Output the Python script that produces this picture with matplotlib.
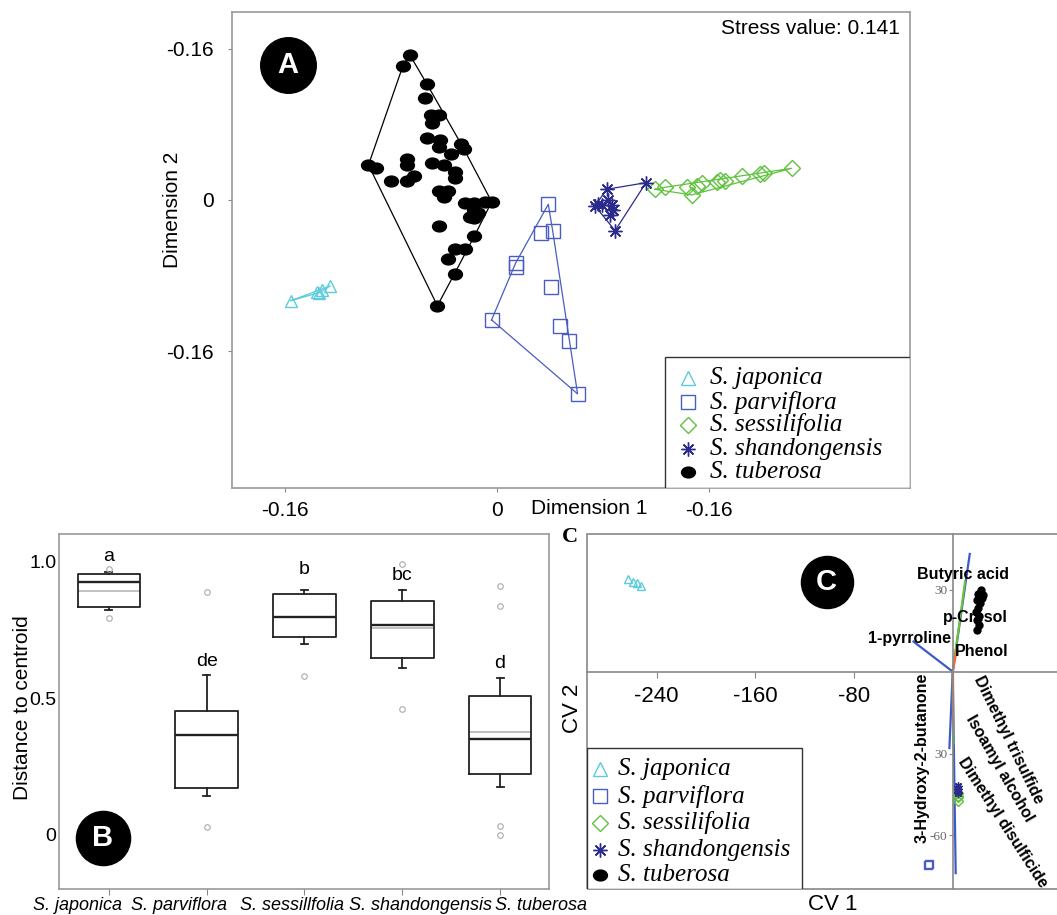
import numpy as np
import matplotlib
matplotlib.use('Agg')
import matplotlib.pyplot as plt
from matplotlib.path import Path
from matplotlib.patches import Rectangle

plt.rcParams['font.family'] = ['Liberation Sans', 'DejaVu Sans']

W, H = 1057, 915

# ---------------- shared species info ----------------
species = ['S. japonica', 'S. parviflora', 'S. sessilifolia', 'S. shandongensis', 'S. tuberosa']
colors = ['#5ccbdc', '#4a5cc0', '#5fc23c', '#2b2b8c', '#000000']

# ---------------- panel A: NMDS ----------------
jap_x = [-0.1555, -0.1357, -0.1324, -0.1258, -0.1340]
jap_y = [-0.1066, -0.0970, -0.0952, -0.0910, -0.0981]
par_x = [0.0387, 0.0331, 0.0420, 0.0140, 0.0140, 0.0404, -0.0041, 0.0476, 0.0540, 0.0608]
par_y = [-0.0046, -0.0346, -0.0325, -0.0670, -0.0712, -0.0924, -0.1270, -0.1333, -0.1492, -0.2053]
ses_x = [0.1192, 0.1268, 0.1432, 0.1469, 0.1507, 0.1545, 0.1658, 0.1683, 0.1721, 0.1847, 0.1985, 0.2015, 0.2224]
ses_y = [0.0113, 0.0134, 0.0134, 0.0053, 0.0148, 0.0177, 0.0194, 0.0212, 0.0204, 0.0254, 0.0275, 0.0289, 0.0335]
sha_x = [0.0828, 0.1125, 0.0765, 0.0740, 0.0790, 0.0840, 0.0866, 0.0878, 0.0853, 0.0891]
sha_y = [0.0113, 0.0183, -0.0042, -0.0063, -0.0053, 0.0000, -0.0053, -0.0106, -0.0159, -0.0325]
tub_x = [-0.066, -0.071, -0.053, -0.054, -0.050, -0.044, -0.049, -0.053, -0.043, -0.027,
         -0.025, -0.044, -0.035, -0.068, -0.068, -0.049, -0.040, -0.097, -0.091, -0.080,
         -0.068, -0.063, -0.032, -0.032, -0.044, -0.037, -0.040, -0.024, -0.017, -0.009,
         -0.004, -0.017, -0.014, -0.020, -0.017, -0.044, -0.017, -0.032, -0.024, -0.037,
         -0.032, -0.045]
tub_y = [0.154, 0.142, 0.123, 0.108, 0.090, 0.090, 0.081, 0.066, 0.063, 0.059,
         0.054, 0.056, 0.049, 0.043, 0.037, 0.039, 0.037, 0.037, 0.034, 0.020,
         0.020, 0.025, 0.030, 0.023, 0.009, 0.009, 0.003, -0.003, -0.003, -0.002,
         -0.002, -0.011, -0.014, -0.018, -0.019, -0.028, -0.038, -0.052, -0.052, -0.063,
         -0.078, -0.112]
a_xticks = [-0.16, 0, 0.16]
a_xticklabels = ['-0.16', '0', '-0.16']
a_yticks = [0.16, 0, -0.16]
a_yticklabels = ['-0.16', '0', '-0.16']
stress = 0.141

# ---------------- panel B: distance to centroid ----------------
b_names = ['S. japonica', 'S. parviflora', 'S. sessillfolia', 'S. shandongensis', 'S. tuberosa']
b_q1 = [0.836, 0.171, 0.724, 0.647, 0.222]
b_q3 = [0.956, 0.455, 0.883, 0.855, 0.509]
b_med = [0.928, 0.366, 0.797, 0.769, 0.350]
b_mean = [0.894, 0.366, 0.797, 0.757, 0.376]
b_lo = [0.824, 0.143, 0.698, 0.611, 0.177]
b_hi = [0.964, 0.584, 0.897, 0.897, 0.573]
b_fliers = [[0.974, 0.796], [0.891, 0.028], [0.582], [0.991, 0.462], [0.910, 0.840, 0.034, 0.0]]
b_letters = ['a', 'de', 'b', 'bc', 'd']
b_letter_y = [1.02, 0.635, 0.973, 0.949, 0.626]
b_label_x = [0.225, 1.225, 2.337, 3.460, 4.945]   # left edges of category names

# ---------------- panel C: CDA ----------------
c_jap_x = [-262.9, -258.9, -256.2, -252.7]
c_jap_y = [33.8, 33.0, 32.4, 31.2]
c_par_x = [-19.8, -19.5]
c_par_y = [-70.8, -70.5]
c_ses_x = [4.5, 4.5, 4.6, 4.4]
c_ses_y = [-44.5, -46.0, -47.5, -45.5]
c_sha_x = [4.5, 4.6, 4.4, 4.5]
c_sha_y = [-42.0, -43.0, -44.0, -44.5]
c_tub_x = [23.2, 20.5, 24.6, 19.4, 22.1, 20.5, 19.1, 21.3, 19.4, 21.6, 19.7, 23.6]
c_tub_y = [29.9, 28.5, 28.1, 26.3, 25.2, 23.3, 21.9, 20.4, 18.9, 17.1, 15.3, 27.0]

vec_names = ['3-Hydroxy-2-butanone', 'Butyric acid', 'p-Cresol', 'Phenol', '1-pyrroline',
             'Dimethyl disulficide', 'Isoamyl alcohol', 'Dimethyl trisulfide']
vec_cv1 = [-2.7, 13.8, 10.0, 3.2, -31.8, 2.4, 0.5, 0.0]
vec_cv2 = [-28.0, 43.1, 33.0, 8.0, 11.0, -73.8, -26.2, -19.5]
vec_colors = ['#3b5bc8', '#3b5bc8', '#6cc040', '#f26b3a', '#3b5bc8', '#3b5bc8', '#6cc040', '#f26b3a']
# label placement (data coords) and rotation
lab_x = [-25.1, 8.3, 18.1, 23.7, -35.4, 40.8, 38.3, 44.8]
lab_y = [-31.6, 35.4, 20.0, 7.2, 12.3, -55.1, -35.3, -25.0]
lab_rot = [90, 0, 0, 0, 0, -57, -60, -64]
c_xticks = [-240, -160, -80]
c_yticks = [30, -30, -60]
c_yticklabels = ['30', '30', '-60']


def rect(x0, y0, x1, y1):
    return [x0 / W, 1 - y1 / H, (x1 - x0) / W, (y1 - y0) / H]


def hull(xs, ys):
    pts = sorted(set(zip(xs, ys)))

    def cross(o, a, b):
        return (a[0] - o[0]) * (b[1] - o[1]) - (a[1] - o[1]) * (b[0] - o[0])
    lower, upper = [], []
    for p in pts:
        while len(lower) >= 2 and cross(lower[-2], lower[-1], p) <= 0:
            lower.pop()
        lower.append(p)
    for p in reversed(pts):
        while len(upper) >= 2 and cross(upper[-2], upper[-1], p) <= 0:
            upper.pop()
        upper.append(p)
    h = lower[:-1] + upper
    return [p[0] for p in h], [p[1] for p in h]


circ = Path.unit_circle()
ellipse = Path(circ.vertices * np.array([1.0, 0.78]), circ.codes)
mk_list = ['^', 's', 'D', (8, 2, 0), ellipse]


def mk(i, ms):
    c = colors[i]
    face = c if i == 4 else 'none'
    return dict(marker=mk_list[i], ms=ms, mec=c, mfc=face, mew=1.0, linestyle='none')


fig = plt.figure(figsize=(W / 100, H / 100), dpi=100)

# ======================= Panel A =======================
axA = fig.add_axes(rect(232, 12, 910, 488))
groups = [(jap_x, jap_y), (par_x, par_y), (ses_x, ses_y), (sha_x, sha_y), (tub_x, tub_y)]
sizes_a = [9, 10, 8, 10, 10]
for i, (gx, gy) in enumerate(groups):
    hx, hy = hull(gx, gy)
    axA.plot(hx, hy, color=colors[i], lw=0.9, zorder=2)
    axA.plot(gx, gy, zorder=3, **mk(i, sizes_a[i]))
axA.set_xlim(-0.200, 0.3117)
axA.set_ylim(-0.305, 0.199)
axA.set_xticks(a_xticks, a_xticklabels)
axA.set_yticks(a_yticks, a_yticklabels)
axA.tick_params(length=3, color='#888', labelsize=15)
axA.tick_params(axis='x', pad=6)
axA.tick_params(axis='y', pad=10)
for s in axA.spines.values():
    s.set_color('#999')
    s.set_linewidth(1.2)
axA.text(0.985, 0.966, f'Stress value: {stress}', transform=axA.transAxes,
         ha='right', va='center', fontsize=15)
fig.text(172 / W, 1 - 210 / H, 'Dimension 2', rotation=90, ha='center', va='center', fontsize=15)
fig.text(589 / W, 1 - 508 / H, 'Dimension 1', ha='center', va='center', fontsize=15)
axA.plot(0.0826, 0.8887, 'o', ms=40, color='black', transform=axA.transAxes, clip_on=False, zorder=6)
axA.text(0.0826, 0.8887, 'A', color='white', fontsize=21, fontweight='bold', ha='center',
         va='center', transform=axA.transAxes, zorder=7)

# legend A
leg_ms = [10, 10, 8, 10, 10]
lx0 = (665 - 232) / 678
axA.add_patch(Rectangle((lx0, 0), 1 - lx0, (488 - 357) / 476, transform=axA.transAxes,
                        fc='white', ec='#333', lw=1.0, zorder=8))
leg_rows_a = [378, 402, 425, 449, 472]
for i, py in enumerate(leg_rows_a):
    yy = (488 - py) / 476
    axA.plot((688 - 232) / 678, yy, transform=axA.transAxes, zorder=9, clip_on=False,
             **mk(i, leg_ms[i]))
    axA.text((710 - 232) / 678, yy, species[i], transform=axA.transAxes, zorder=9,
             family='Liberation Serif', style='italic', fontsize=18, ha='left', va='center')

# ======================= Panel B =======================
axB = fig.add_axes(rect(59, 534, 549, 889))
pos = np.arange(1, 6)
stats = []
for k in range(5):
    stats.append(dict(med=b_med[k], q1=b_q1[k], q3=b_q3[k], whislo=b_lo[k],
                      whishi=b_hi[k], fliers=b_fliers[k], label=b_names[k]))
bw = 0.64
axB.hlines(b_mean, pos - bw / 2, pos + bw / 2, color='#b5b5b5', lw=1.2, zorder=1.5)
axB.bxp(stats, positions=pos, widths=bw, capwidths=0.07, manage_ticks=False,
        boxprops=dict(color='#222', lw=1.3),
        medianprops=dict(color='#222', lw=1.7),
        whiskerprops=dict(color='#222', lw=1.3),
        capprops=dict(color='#222', lw=1.3),
        flierprops=dict(marker='o', ms=4, mfc='none', mec='#aaaaaa', mew=0.8))
axB.set_xlim(0.49, 5.5)
axB.set_ylim(-0.198, 1.102)
axB.set_xticks(pos, [''] * 5)
axB.tick_params(axis='x', length=4, color='#888')
axB.set_yticks([0, 0.5, 1.0], ['0', '0.5', '1.0'])
axB.tick_params(axis='y', length=0, pad=2, labelsize=14)
for k in range(5):
    axB.text(pos[k], b_letter_y[k], b_letters[k], ha='center', va='center', fontsize=14)
    axB.text(b_label_x[k], -0.047, b_names[k], transform=axB.get_xaxis_transform(),
             ha='left', va='center', fontsize=13, style='italic', clip_on=False)
for s in axB.spines.values():
    s.set_color('#999')
    s.set_linewidth(1.2)
fig.text(22 / W, 1 - 708 / H, 'Distance to centroid', rotation=90, ha='center', va='center',
         fontsize=15)
axB.plot(0.0898, 0.1437, 'o', ms=39, color='black', transform=axB.transAxes, clip_on=False, zorder=6)
axB.text(0.0898, 0.1437, 'B', color='white', fontsize=21, fontweight='bold', ha='center',
         va='center', transform=axB.transAxes, zorder=7)

# ======================= Panel C =======================
axC = fig.add_axes(rect(587, 534, 1057, 889))
axC.set_xlim(-296.4, 84.5)
axC.set_ylim(-79.6, 50.4)
axC.spines['left'].set_position(('data', 0))
axC.spines['bottom'].set_position(('data', 0))
axC.spines['top'].set_visible(False)
axC.spines['right'].set_visible(False)
for s in ['left', 'bottom']:
    axC.spines[s].set_color('#888')
    axC.spines[s].set_linewidth(1.2)
axC.add_patch(Rectangle((0, 0), 1.02, 1, transform=axC.transAxes, fill=False, ec='#888',
                        lw=1.2, clip_on=False, zorder=0.5))
axC.set_xticks(c_xticks, [str(v) for v in c_xticks])
axC.tick_params(axis='x', length=4, color='#888', labelsize=16, pad=6)
axC.set_yticks(c_yticks, c_yticklabels, fontfamily='Liberation Serif', fontsize=9.5, color='#666')
axC.tick_params(axis='y', length=3, color='#888', pad=1)

for k in range(len(vec_names)):
    axC.plot([0, vec_cv1[k]], [0, vec_cv2[k]], color=vec_colors[k], lw=1.6, zorder=2)
    axC.text(lab_x[k], lab_y[k], vec_names[k], rotation=lab_rot[k], rotation_mode='anchor',
             ha='center', va='center', fontsize=11.5, fontweight='bold', zorder=4)

axC.plot(c_jap_x, c_jap_y, zorder=3, **mk(0, 6))
axC.plot(c_par_x, c_par_y, zorder=3, **mk(1, 6))
axC.plot(c_ses_x, c_ses_y, zorder=3, **mk(2, 5))
axC.plot(c_sha_x, c_sha_y, zorder=3, **mk(3, 6))
axC.plot(c_tub_x, c_tub_y, zorder=3, marker='o', ms=5, mfc='black', mec='black', linestyle='none')

# legend C
axC.add_patch(Rectangle((0, 0), (802 - 587) / 470, (889 - 748) / 355, transform=axC.transAxes,
                        fc='white', ec='#333', lw=1.0, zorder=8))
leg_rows_c = [769, 796, 823, 850, 875]
for i, py in enumerate(leg_rows_c):
    yy = (889 - py) / 355
    axC.plot((600 - 587) / 470, yy, transform=axC.transAxes, zorder=9, clip_on=False,
             **mk(i, leg_ms[i]))
    axC.text((618 - 587) / 470, yy, species[i], transform=axC.transAxes, zorder=9,
             family='Liberation Serif', style='italic', fontsize=18, ha='left', va='center')

axC.plot(0.51, 0.8656, 'o', ms=37.5, color='black', transform=axC.transAxes, clip_on=False, zorder=6)
axC.text(0.51, 0.8656, 'C', color='white', fontsize=21, fontweight='bold', ha='center',
         va='center', transform=axC.transAxes, zorder=7)
fig.text(573 / W, 1 - 708 / H, 'CV 2', rotation=90, ha='center', va='center', fontsize=16)
fig.text(833 / W, 1 - 905 / H, 'CV 1', ha='center', va='center', fontsize=16)
fig.text(570 / W, 1 - 537 / H, 'C', ha='center', va='center', fontsize=16,
         family='Liberation Serif', fontweight='bold')

fig.savefig('out.png', dpi=100)
